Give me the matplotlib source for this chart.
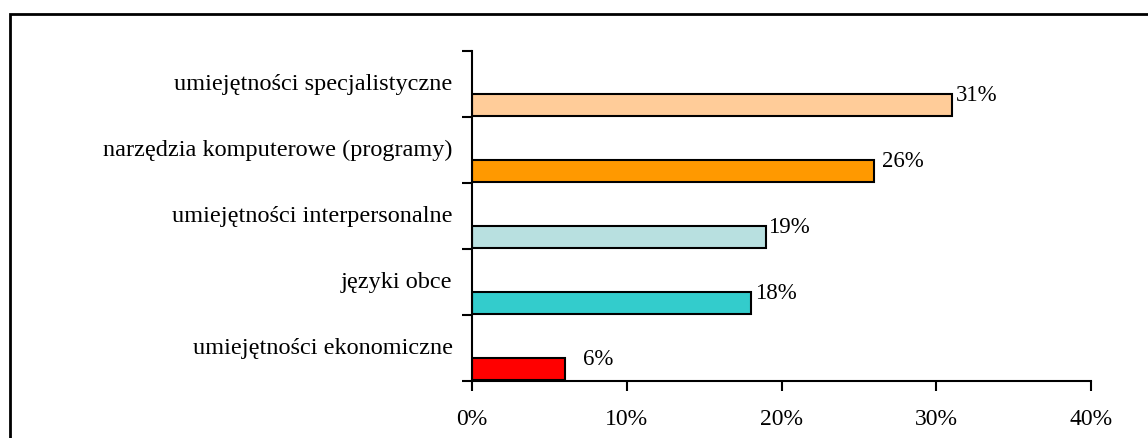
import matplotlib.pyplot as plt
from matplotlib.patches import Rectangle

# categories bottom -> top
categories = [
    "umiejętności ekonomiczne",
    "języki obce",
    "umiejętności interpersonalne",
    "narzędzia komputerowe (programy)",
    "umiejętności specjalistyczne",
]
shares = [6, 18, 19, 26, 31]
colors = ["#FF0000", "#33CCCC", "#B8E0E0", "#FF9900", "#FFCC99"]
x_ticks = [0, 10, 20, 30, 40]

plt.rcParams["font.family"] = ["Liberation Serif", "DejaVu Serif"]

fig = plt.figure(figsize=(11.48, 4.38), dpi=100)
fig.patches.append(Rectangle((10 / 1148, -0.1), 1.2, 1 - 14 / 438 + 0.1,
                             transform=fig.transFigure, fill=False,
                             edgecolor="black", linewidth=2))

ax = fig.add_axes([472 / 1148, 1 - 381 / 438, (1091 - 472) / 1148, (381 - 51) / 438])

BAR_H = 0.33
BAR_OFF = 0.18  # bars sit in lower part of each band
ys = [i + BAR_OFF for i in range(len(categories))]
ax.barh(ys, shares, height=BAR_H, color=colors, edgecolor="black", linewidth=1.5)

label_pad = [1.2, 0.3, 0.15, 0.5, 0.3]
for y, v, p in zip(ys, shares, label_pad):
    ax.text(v + p, y + 0.14, f"{v}%", ha="left", va="center", fontsize=16.5)

ax.set_xlim(0, 40)
ax.set_ylim(0, 5)
ax.set_xticks(x_ticks)
ax.set_xticklabels([f"{t}%" for t in x_ticks], fontsize=17)
ax.set_yticks(range(6))
ax.set_yticklabels([])
ax.set_yticks([i + 0.53 for i in range(5)], minor=True)
ax.set_yticklabels(categories, minor=True, fontsize=17.5)
ax.tick_params(axis="y", which="minor", length=0, pad=14)
ax.tick_params(axis="y", which="major", length=7, width=1.5, direction="out")
ax.tick_params(axis="x", length=7, width=1.5, direction="out", pad=13)

for side in ("top", "right"):
    ax.spines[side].set_visible(False)
for side in ("left", "bottom"):
    ax.spines[side].set_linewidth(1.5)

fig.savefig("out.png", dpi=100)
